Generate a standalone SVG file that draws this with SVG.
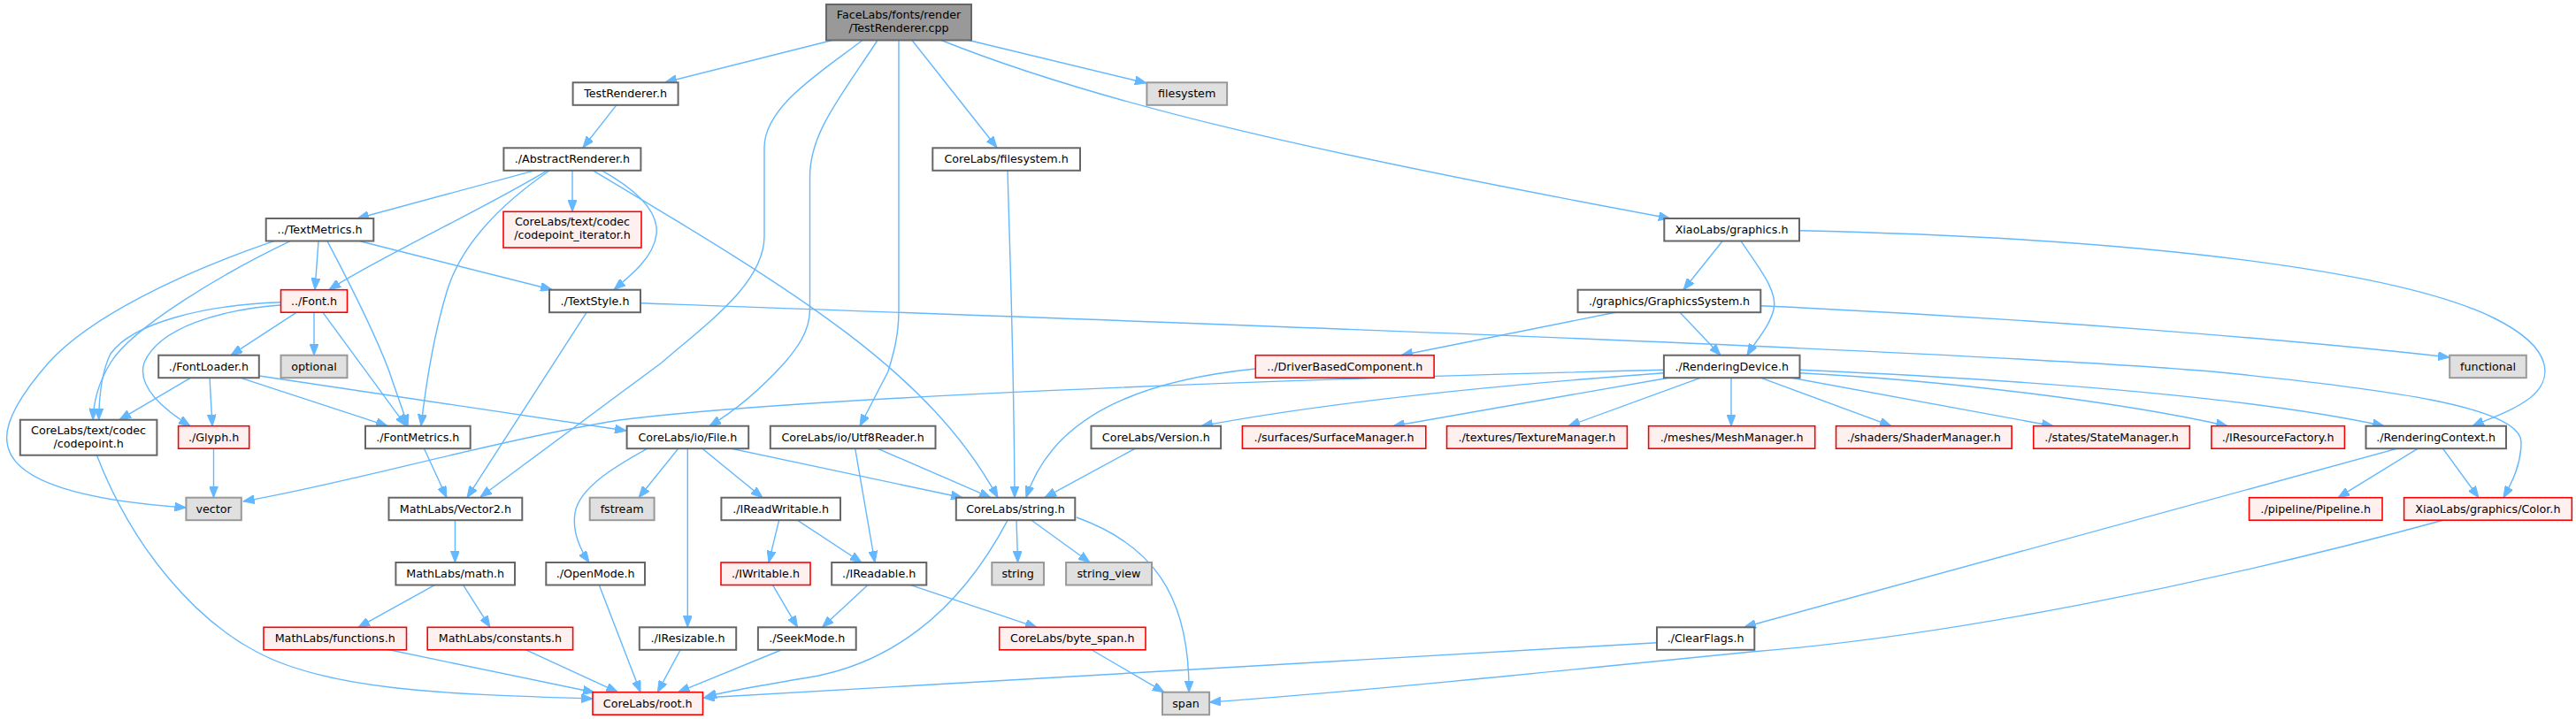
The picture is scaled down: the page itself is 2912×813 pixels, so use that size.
<svg xmlns="http://www.w3.org/2000/svg" width="2912" height="813" viewBox="0 0 2912 813">
<style>
text{font-family:"DejaVu Sans","Liberation Sans",sans-serif;font-size:12.7px;text-anchor:middle;fill:#000}
.n{fill:#ffffff;stroke:#666666;stroke-width:2}
.r{fill:#fff0f0;stroke:#ff0000;stroke-width:1.6}
.s{fill:#e0e0e0;stroke:#999999;stroke-width:2}
.root{fill:#999999;stroke:#666666;stroke-width:2}
#edges path{fill:none;stroke:#63b8ff;stroke-width:1.4;marker-end:url(#ah)}
</style>
<defs>
<marker id="ah" markerUnits="userSpaceOnUse" viewBox="0 0 13 10" refX="13" refY="5" markerWidth="13" markerHeight="10" orient="auto">
<path d="M0,0 L13,5 L0,10 z" fill="#63b8ff" stroke="#63b8ff" stroke-width="1"/>
</marker>
</defs>
<rect width="2912" height="813" fill="#ffffff"/>
<g id="edges">
<path d="M941,45.5 L752,93"/>
<path d="M975,45.5 C930,80 864,120 864,167 L864,267 C864,320 800,365 748,410 L543,562"/>
<path d="M992,45.5 C950,110 915.5,150 915.5,200 L915.5,350 C915.5,375 900,395 887,410 C860,440 830,465 802,481.7"/>
<path d="M1016,45.5 L1016,350 C1016,380 1010,400 1004,420 L972,481.7"/>
<path d="M1031,45.5 L1127,167"/>
<path d="M1064,45.5 C1250,120 1500,175 1888,247"/>
<path d="M1095,45.5 L1296,94"/>
<path d="M697,118.6 L659,167"/>
<path d="M605,192.6 L404,247"/>
<path d="M619,192.6 C540,240 430,290 372,327.5"/>
<path d="M621,193 C560,235 520,280 505,330 C490,380 482,430 476,481.7"/>
<path d="M647,192.6 L647,239.3"/>
<path d="M680,192.6 C720,215 745,240 742,265 C739,290 715,310 694,327.5"/>
<path d="M670,192.6 C900,330 1050,420 1128,562.7"/>
<path d="M309.6,272.7 C200,310 100,360 55,410 C20,450 5,480 8,500 C12,540 80,565 210.4,574"/>
<path d="M328,272.7 C250,310 150,370 125,410 C110,435 106,455 105,474.7"/>
<path d="M360,272.7 L356,327.5"/>
<path d="M370,272.7 C395,320 425,380 440,420 C450,450 456,465 461,481.7"/>
<path d="M407,272.7 L624,327.5"/>
<path d="M317,341.7 C230,345 150,365 125,400 C115,420 112,445 111.7,474.7"/>
<path d="M317,345 C250,350 180,370 163,410 C155,435 180,460 215,481.7"/>
<path d="M335,353.3 L261,401.7"/>
<path d="M355,353.3 L355,401.7"/>
<path d="M365,353.3 L459,481.7"/>
<path d="M216.5,426.7 L135,474.7"/>
<path d="M237,426.7 L240,481.7"/>
<path d="M270,426.7 L438,481.7"/>
<path d="M293,425 L708,487"/>
<path d="M241.5,507.3 L241.5,562.7"/>
<path d="M109.4,514.7 C150,620 220,700 290,737 C370,780 500,785 670,790"/>
<path d="M479.5,507.3 L505,562.7"/>
<path d="M663,353.3 L528,562.7"/>
<path d="M724,342.7 C1200,360 2200,395 2500,420 C2700,440 2850,460 2850,500 C2850,525 2840,545 2830,562.7"/>
<path d="M1947,272.7 L1903,327.7"/>
<path d="M1968,272.7 C1990,305 2010,330 2005,350 C2000,370 1985,385 1975,401.7"/>
<path d="M2034,260.7 C2450,270 2720,310 2820,360 C2890,395 2885,430 2860,450 C2840,465 2815,473 2795,481.7"/>
<path d="M1826,353.3 L1584,401.7"/>
<path d="M1899,353.3 L1945,401.7"/>
<path d="M1990,345.7 C2300,360 2600,385 2769,404"/>
<path d="M1881,418.3 C1400,430 900,450 700,475 C550,500 400,545 274.7,567"/>
<path d="M1881,421.7 C1700,435 1500,455 1358,481.7"/>
<path d="M1889,426.7 L1575,481.7"/>
<path d="M1924,426.7 L1773,481.7"/>
<path d="M1957,426.7 L1957,481.7"/>
<path d="M1989,426.7 L2138,481.7"/>
<path d="M2022,426.7 L2321,481.7"/>
<path d="M2034.5,421.7 C2200,430 2400,455 2518,481.7"/>
<path d="M2034.5,418.3 C2300,430 2550,450 2695,481.7"/>
<path d="M2709.5,507.3 L1972,709"/>
<path d="M2733,507.3 L2643,562.7"/>
<path d="M2761.6,507.3 L2802,562.7"/>
<path d="M2761.6,588.3 C2500,660 2200,720 1980,737 C1700,765 1500,785 1367,794"/>
<path d="M1873,726.7 L795,789"/>
<path d="M731.6,507.3 C700,525 655,550 650,580 C647,600 655,620 666,636"/>
<path d="M766.6,507.3 L722,562.7"/>
<path d="M777.3,507.3 L777.3,709.3"/>
<path d="M794,507.3 L862,562.7"/>
<path d="M827,507.3 L1088,562.7"/>
<path d="M966.7,507.3 L989,636"/>
<path d="M992.3,507.3 L1120,562.7"/>
<path d="M1139,192.3 C1142,300 1146,400 1147,562.7"/>
<path d="M1419,417 C1290,430 1190,470 1160,562.7"/>
<path d="M1283,507.3 L1181,562.7"/>
<path d="M880.6,588.3 L869,636"/>
<path d="M901.6,588.3 L974,636"/>
<path d="M873.6,661.7 L901.6,709.3"/>
<path d="M980.7,661.7 L929.5,709.3"/>
<path d="M1029.6,661.7 L1172,709.3"/>
<path d="M1149,588.3 L1150.6,636"/>
<path d="M1166,588.3 L1232,636"/>
<path d="M1139,588.3 C1080,700 1000,750 920,765 C860,775 820,782 796.8,788"/>
<path d="M1217,585 C1300,615 1345,670 1344,782.7"/>
<path d="M1234.4,735 L1316,782.7"/>
<path d="M769,735 L743.3,782.7"/>
<path d="M883,735 L766.6,782.7"/>
<path d="M677.4,661.7 L724,782.7"/>
<path d="M437.6,734.3 L672,783"/>
<path d="M593.6,734.3 L698.3,782.7"/>
<path d="M514.4,588 L514.4,636"/>
<path d="M491.2,661.7 L405,709.3"/>
<path d="M523.7,661.7 L554,709.3"/>
</g>
<g id="n_cpp"><rect class="root" x="934" y="5" width="164" height="40.5"/><text x="1016" y="21">FaceLabs/fonts/render</text><text x="1016" y="36">/TestRenderer.cpp</text></g>
<g id="n_testrenderer"><rect class="n" x="647.6" y="93.3" width="119" height="25.5"/><text x="707.1" y="110.3">TestRenderer.h</text></g>
<g id="n_abstract"><rect class="n" x="569.4" y="167.3" width="155" height="25.5"/><text x="646.9" y="184.3">./AbstractRenderer.h</text></g>
<g id="n_filesystem"><rect class="s" x="1296.4" y="93.3" width="90.7" height="25.5"/><text x="1341.7" y="110.3">filesystem</text></g>
<g id="n_cl_filesystem"><rect class="n" x="1054.3" y="167.3" width="166.7" height="25.5"/><text x="1137.6" y="184.3">CoreLabs/filesystem.h</text></g>
<g id="n_xl_graphics"><rect class="n" x="1881.3" y="247" width="152.7" height="25.5"/><text x="1957.6" y="264">XiaoLabs/graphics.h</text></g>
<g id="n_textmetrics"><rect class="n" x="300.7" y="247" width="121.6" height="25.5"/><text x="361.5" y="264">../TextMetrics.h</text></g>
<g id="n_cp_iter"><rect class="r" x="569" y="239.3" width="156" height="40.7"/><text x="647" y="255.3">CoreLabs/text/codec</text><text x="647" y="270.3">/codepoint_iterator.h</text></g>
<g id="n_font"><rect class="r" x="317.5" y="327.7" width="75" height="25.5"/><text x="355" y="344.7">../Font.h</text></g>
<g id="n_textstyle"><rect class="n" x="621" y="327.7" width="103" height="25.5"/><text x="672.5" y="344.7">./TextStyle.h</text></g>
<g id="n_gsys"><rect class="n" x="1783.6" y="327.7" width="206.7" height="25.5"/><text x="1887" y="344.7">./graphics/GraphicsSystem.h</text></g>
<g id="n_fontloader"><rect class="n" x="179.2" y="401.7" width="113.6" height="25.5"/><text x="236" y="418.7">./FontLoader.h</text></g>
<g id="n_optional"><rect class="s" x="317.5" y="401.7" width="75" height="25.5"/><text x="355" y="418.7">optional</text></g>
<g id="n_driver"><rect class="r" x="1419.3" y="401.7" width="201.8" height="25.5"/><text x="1520.2" y="418.7">../DriverBasedComponent.h</text></g>
<g id="n_rdevice"><rect class="n" x="1880.9" y="401.7" width="153.6" height="25.5"/><text x="1957.7" y="418.7">./RenderingDevice.h</text></g>
<g id="n_functional"><rect class="s" x="2769.2" y="401.7" width="86.6" height="25.5"/><text x="2812.5" y="418.7">functional</text></g>
<g id="n_codepoint"><rect class="n" x="22.8" y="474.7" width="154.6" height="40"/><text x="100.1" y="490.5">CoreLabs/text/codec</text><text x="100.1" y="505.5">/codepoint.h</text></g>
<g id="n_glyph"><rect class="r" x="201.6" y="481.7" width="80.1" height="25.5"/><text x="241.6" y="498.7">./Glyph.h</text></g>
<g id="n_fontmetrics"><rect class="n" x="413" y="481.7" width="118.7" height="25.5"/><text x="472.3" y="498.7">./FontMetrics.h</text></g>
<g id="n_file"><rect class="n" x="708.6" y="481.7" width="137.6" height="25.5"/><text x="777.4" y="498.7">CoreLabs/io/File.h</text></g>
<g id="n_utf8"><rect class="n" x="870.8" y="481.7" width="186.7" height="25.5"/><text x="964.1" y="498.7">CoreLabs/io/Utf8Reader.h</text></g>
<g id="n_version"><rect class="n" x="1233.5" y="481.7" width="146.6" height="25.5"/><text x="1306.8" y="498.7">CoreLabs/Version.h</text></g>
<g id="n_surface"><rect class="r" x="1404.4" y="481.7" width="207.4" height="25.5"/><text x="1508.1" y="498.7">./surfaces/SurfaceManager.h</text></g>
<g id="n_texture"><rect class="r" x="1635.5" y="481.7" width="203.9" height="25.5"/><text x="1737.4" y="498.7">./textures/TextureManager.h</text></g>
<g id="n_mesh"><rect class="r" x="1863.6" y="481.7" width="188.1" height="25.5"/><text x="1957.6" y="498.7">./meshes/MeshManager.h</text></g>
<g id="n_shader"><rect class="r" x="2075.5" y="481.7" width="198.6" height="25.5"/><text x="2174.8" y="498.7">./shaders/ShaderManager.h</text></g>
<g id="n_state"><rect class="r" x="2298.7" y="481.7" width="176.6" height="25.5"/><text x="2387" y="498.7">./states/StateManager.h</text></g>
<g id="n_resfactory"><rect class="r" x="2499.9" y="481.7" width="150.5" height="25.5"/><text x="2575.1" y="498.7">./IResourceFactory.h</text></g>
<g id="n_rcontext"><rect class="n" x="2674.5" y="481.7" width="158.5" height="25.5"/><text x="2753.7" y="498.7">./RenderingContext.h</text></g>
<g id="n_vector"><rect class="s" x="210.4" y="562.7" width="62.4" height="25.5"/><text x="241.6" y="579.7">vector</text></g>
<g id="n_vector2"><rect class="n" x="439.5" y="562.7" width="150.8" height="25.5"/><text x="514.9" y="579.7">MathLabs/Vector2.h</text></g>
<g id="n_fstream"><rect class="s" x="666.7" y="562.7" width="72.9" height="25.5"/><text x="703.1" y="579.7">fstream</text></g>
<g id="n_ireadwritable"><rect class="n" x="815.4" y="562.7" width="134.6" height="25.5"/><text x="882.7" y="579.7">./IReadWritable.h</text></g>
<g id="n_string_h"><rect class="n" x="1080.8" y="562.7" width="134.5" height="25.5"/><text x="1148" y="579.7">CoreLabs/string.h</text></g>
<g id="n_pipeline"><rect class="r" x="2542.5" y="562.7" width="150.5" height="25.5"/><text x="2617.7" y="579.7">./pipeline/Pipeline.h</text></g>
<g id="n_color"><rect class="r" x="2717.6" y="562.7" width="189.7" height="25.5"/><text x="2812.4" y="579.7">XiaoLabs/graphics/Color.h</text></g>
<g id="n_math"><rect class="n" x="447.4" y="636" width="134.6" height="25.5"/><text x="514.7" y="653">MathLabs/math.h</text></g>
<g id="n_openmode"><rect class="n" x="617.3" y="636" width="111.7" height="25.5"/><text x="673.2" y="653">./OpenMode.h</text></g>
<g id="n_iwritable"><rect class="r" x="815" y="636" width="101" height="25.5"/><text x="865.5" y="653">./IWritable.h</text></g>
<g id="n_ireadable"><rect class="n" x="940.2" y="636" width="107.1" height="25.5"/><text x="993.7" y="653">./IReadable.h</text></g>
<g id="n_string"><rect class="s" x="1121.3" y="636" width="58.7" height="25.5"/><text x="1150.6" y="653">string</text></g>
<g id="n_string_view"><rect class="s" x="1205.1" y="636" width="96.9" height="25.5"/><text x="1253.5" y="653">string_view</text></g>
<g id="n_functions"><rect class="r" x="298" y="709.3" width="161.5" height="25.5"/><text x="378.7" y="726.3">MathLabs/functions.h</text></g>
<g id="n_constants"><rect class="r" x="483.2" y="709.3" width="164.4" height="25.5"/><text x="565.4" y="726.3">MathLabs/constants.h</text></g>
<g id="n_iresizable"><rect class="n" x="722.8" y="709.3" width="109.4" height="25.5"/><text x="777.5" y="726.3">./IResizable.h</text></g>
<g id="n_seekmode"><rect class="n" x="856.9" y="709.3" width="110.8" height="25.5"/><text x="912.3" y="726.3">./SeekMode.h</text></g>
<g id="n_byte_span"><rect class="r" x="1129.7" y="709.3" width="165.3" height="25.5"/><text x="1212.3" y="726.3">CoreLabs/byte_span.h</text></g>
<g id="n_clearflags"><rect class="n" x="1873" y="709.3" width="110.3" height="25.5"/><text x="1928.1" y="726.3">./ClearFlags.h</text></g>
<g id="n_root"><rect class="r" x="670" y="782.7" width="124.5" height="25.5"/><text x="732.2" y="799.7">CoreLabs/root.h</text></g>
<g id="n_span"><rect class="s" x="1314" y="782.7" width="53.1" height="25.5"/><text x="1340.5" y="799.7">span</text></g>
</svg>
